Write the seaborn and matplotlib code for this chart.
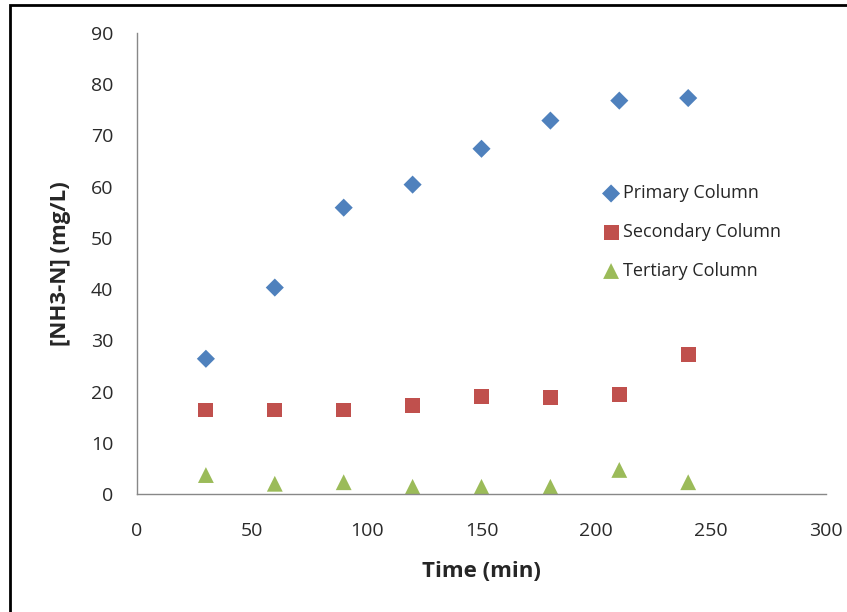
import pandas as pd
import seaborn as sns
import matplotlib.pyplot as plt
from matplotlib.patches import Rectangle

# Data
time = [30, 60, 90, 120, 150, 180, 210, 240]
primary = [26.4, 40.3, 55.9, 60.4, 67.4, 72.9, 76.8, 77.3]
secondary = [16.4, 16.4, 16.4, 17.2, 19.1, 18.9, 19.5, 27.3]
tertiary = [3.7, 2.0, 2.3, 1.4, 1.4, 1.4, 4.7, 2.3]
series = ['Primary Column', 'Secondary Column', 'Tertiary Column']

data = pd.DataFrame({
    'Time': time * 3,
    'NH3': primary + secondary + tertiary,
    'Series': [series[0]] * len(time) + [series[1]] * len(time) + [series[2]] * len(time),
})

sns.set_style('white')
plt.rcParams['font.family'] = ['Open Sans', 'DejaVu Sans']

fig = plt.figure(figsize=(8.47, 6.12), dpi=100)
ax = fig.add_axes([137 / 847, 1 - 494 / 612, (826 - 137) / 847, (494 - 33) / 612])

palette = {series[0]: '#4F81BD', series[1]: '#C0504D', series[2]: '#9BBB59'}
markers = {series[0]: 'D', series[1]: 's', series[2]: '^'}
sizes = {series[0]: 85, series[1]: 115, series[2]: 130}

for name in series:
    sub = data[data['Series'] == name]
    sns.scatterplot(data=sub, x='Time', y='NH3', color=palette[name],
                    marker=markers[name], s=sizes[name], edgecolor='none',
                    label=name, ax=ax)

ax.set_xlim(0, 300)
ax.set_ylim(0, 90)
ax.set_xticks(range(0, 301, 50))
ax.set_yticks(range(0, 91, 10))
ax.tick_params(axis='both', labelsize=14, length=0, colors='#2a2a2a')
ax.tick_params(axis='x', pad=20)
ax.tick_params(axis='y', pad=17)
ax.set_xlabel('Time (min)', fontsize=16, fontweight='bold', labelpad=15)
ax.set_ylabel('[NH3-N] (mg/L)', fontsize=16, fontweight='bold', labelpad=14)

for side in ['top', 'right']:
    ax.spines[side].set_visible(False)
for side in ['left', 'bottom']:
    ax.spines[side].set_color('#888888')
    ax.spines[side].set_linewidth(1)

ax.legend(loc='upper left', bbox_to_anchor=(593 / 847, 1 - 177 / 612),
          bbox_transform=fig.transFigure, frameon=False, fontsize=13,
          handletextpad=0.05, labelspacing=1.15, borderaxespad=0,
          handlelength=1.2)

# outer frame around the chart
fig.patches.append(Rectangle((10 / 847, -0.05), 1.1, 1 - 5 / 612 + 0.05,
                             transform=fig.transFigure, fill=False,
                             edgecolor='black', linewidth=2))

fig.savefig('out.png', dpi=100)
